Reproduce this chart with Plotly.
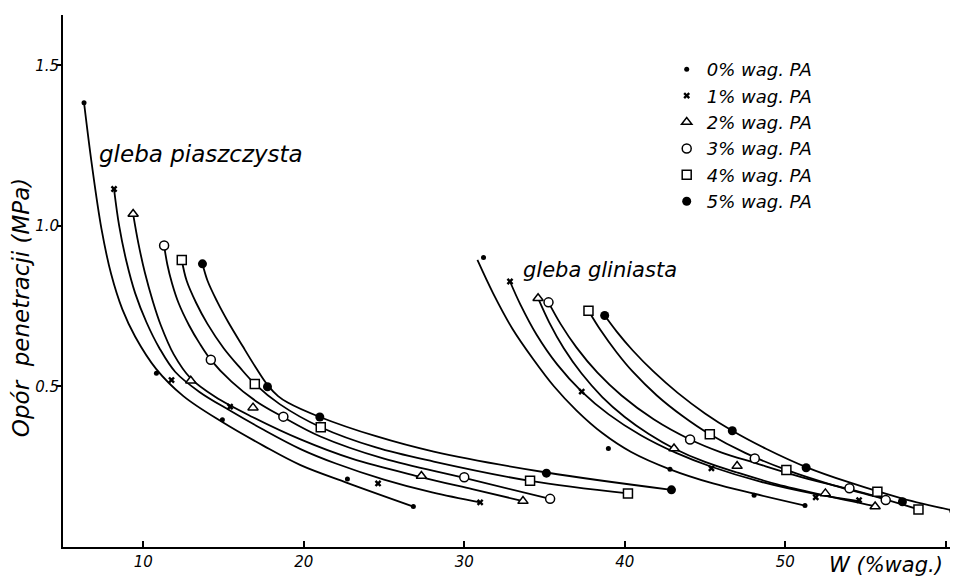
import plotly.graph_objects as go

# ---------------- data ----------------
series_names = ["0% wag. PA", "1% wag. PA", "2% wag. PA", "3% wag. PA", "4% wag. PA", "5% wag. PA"]

# measured points, sandy soil (gleba piaszczysta): W (% wag.) and penetration resistance (MPa)
sand_pts_w = [
    [6.31, 10.82, 14.93, 22.72, 26.83],
    [8.18, 11.76, 15.41, 24.63, 30.99],
    [9.37, 12.96, 16.84, 27.33, 33.66],
    [11.30, 14.21, 18.73, 30.00, 35.35],
    [12.40, 16.95, 21.06, 34.10, 40.20],
    [13.69, 17.74, 21.00, 35.12, 42.91],
]
sand_pts_r = [
    [1.384, 0.541, 0.396, 0.212, 0.126],
    [1.115, 0.520, 0.437, 0.198, 0.139],
    [1.037, 0.518, 0.434, 0.221, 0.143],
    [0.939, 0.583, 0.406, 0.217, 0.150],
    [0.894, 0.508, 0.373, 0.206, 0.167],
    [0.882, 0.499, 0.405, 0.230, 0.178],
]

# measured points, loamy soil (gleba gliniasta)
clay_pts_w = [
    [31.20, 38.98, 42.82, 48.06, 51.23],
    [32.85, 37.32, 45.40, 51.90, 54.60],
    [34.60, 43.07, 47.00, 52.50, 55.60],
    [35.25, 44.07, 48.10, 54.00, 56.26],
    [37.74, 45.30, 50.07, 55.74, 58.30],
    [38.75, 46.70, 51.30, 57.30, 60.50],
]
clay_pts_r = [
    [0.902, 0.307, 0.242, 0.161, 0.129],
    [0.827, 0.484, 0.245, 0.155, 0.146],
    [0.775, 0.307, 0.252, 0.167, 0.126],
    [0.762, 0.335, 0.276, 0.183, 0.146],
    [0.736, 0.351, 0.240, 0.172, 0.117],
    [0.721, 0.362, 0.247, 0.141, 0.113],
]

# fitted curves as drawn in the picture
sand_fit_w = [
    [6.31, 6.80, 7.40, 8.00, 8.70, 9.50, 10.80, 12.50, 14.90, 17.50, 19.80, 22.70, 26.83],
    [8.18, 8.50, 8.95, 9.50, 10.20, 11.00, 12.00, 13.50, 15.40, 17.50, 19.80, 22.00, 25.00, 28.00, 30.99],
    [9.37, 9.70, 10.10, 10.60, 11.10, 11.90, 12.96, 14.50, 16.80, 19.80, 23.00, 27.30, 30.50, 33.66],
    [11.30, 11.50, 11.80, 12.20, 12.86, 13.50, 14.21, 15.50, 17.00, 18.70, 21.00, 25.00, 30.00, 35.35],
    [12.40, 12.70, 13.30, 14.00, 15.00, 16.00, 16.95, 18.50, 21.06, 24.50, 28.10, 34.10, 40.20],
    [13.69, 14.00, 14.60, 15.30, 16.20, 17.00, 17.74, 18.40, 19.00, 21.00, 24.50, 28.10, 35.12, 42.91],
]
sand_fit_r = [
    [1.384, 1.190, 0.990, 0.850, 0.740, 0.655, 0.555, 0.470, 0.390, 0.315, 0.255, 0.200, 0.126],
    [1.115, 1.000, 0.890, 0.790, 0.700, 0.620, 0.545, 0.483, 0.425, 0.365, 0.305, 0.260, 0.210, 0.170, 0.139],
    [1.037, 0.945, 0.855, 0.765, 0.690, 0.600, 0.525, 0.467, 0.405, 0.335, 0.275, 0.218, 0.180, 0.143],
    [0.939, 0.880, 0.820, 0.760, 0.690, 0.635, 0.583, 0.515, 0.455, 0.405, 0.345, 0.275, 0.215, 0.150],
    [0.894, 0.830, 0.760, 0.695, 0.620, 0.560, 0.508, 0.445, 0.373, 0.310, 0.266, 0.206, 0.167],
    [0.882, 0.830, 0.765, 0.700, 0.625, 0.560, 0.505, 0.470, 0.450, 0.405, 0.345, 0.297, 0.232, 0.178],
]
clay_fit_w = [
    [30.82, 31.80, 33.00, 34.30, 35.60, 37.00, 38.60, 40.40, 42.82, 45.50, 48.06, 51.23],
    [32.85, 33.50, 34.50, 35.80, 37.32, 39.00, 41.00, 43.20, 45.40, 48.50, 51.90, 54.60],
    [34.60, 35.30, 36.20, 37.30, 38.60, 40.00, 41.50, 43.07, 45.00, 47.00, 49.50, 52.50, 55.60],
    [35.25, 36.00, 37.00, 38.30, 39.80, 41.80, 44.07, 46.00, 48.10, 51.00, 54.00, 56.26],
    [37.74, 38.50, 39.50, 40.50, 42.00, 43.60, 45.30, 47.50, 50.07, 53.00, 55.74, 58.30],
    [38.75, 39.50, 40.50, 41.80, 43.30, 45.00, 46.70, 48.80, 51.30, 54.00, 57.30, 60.50],
]
clay_fit_r = [
    [0.894, 0.790, 0.680, 0.585, 0.500, 0.425, 0.355, 0.296, 0.242, 0.198, 0.166, 0.129],
    [0.827, 0.755, 0.662, 0.568, 0.484, 0.413, 0.348, 0.293, 0.250, 0.203, 0.165, 0.143],
    [0.775, 0.699, 0.619, 0.541, 0.467, 0.405, 0.352, 0.307, 0.265, 0.232, 0.195, 0.160, 0.127],
    [0.762, 0.695, 0.621, 0.543, 0.472, 0.398, 0.335, 0.295, 0.262, 0.218, 0.180, 0.150],
    [0.736, 0.675, 0.606, 0.546, 0.472, 0.408, 0.351, 0.293, 0.240, 0.192, 0.155, 0.117],
    [0.721, 0.671, 0.612, 0.546, 0.480, 0.416, 0.362, 0.306, 0.249, 0.201, 0.151, 0.113],
]

soil_labels = ["gleba piaszczysta", "gleba gliniasta"]
x_ticks = [10, 20, 30, 40, 50, 60]
x_tick_text = ["10", "20", "30", "40", "50", ""]
y_ticks = [0.5, 1.0, 1.5]
y_tick_text = ["0.5", "1.0", "1.5"]

# ---------------- styles ----------------
marker_styles = [
    dict(symbol="circle", size=5, color="black", line=dict(width=0)),
    dict(symbol="x", size=6, color="black", line=dict(width=0)),
    dict(symbol="triangle-up", size=9, color="white", line=dict(color="black", width=1.5)),
    dict(symbol="circle", size=9, color="white", line=dict(color="black", width=1.5)),
    dict(symbol="square", size=9, color="white", line=dict(color="black", width=1.5)),
    dict(symbol="circle", size=9, color="black", line=dict(width=0)),
]
FONT = "DejaVu Sans"

fig = go.Figure()

# curves first
for fw, fr in ((sand_fit_w, sand_fit_r), (clay_fit_w, clay_fit_r)):
    for w, r in zip(fw, fr):
        fig.add_trace(go.Scatter(
            x=w, y=r, mode="lines",
            line=dict(color="black", width=1.8, shape="spline", smoothing=1.0),
            showlegend=False, hoverinfo="skip"))

# markers on top
for soil, (pw, pr) in enumerate(((sand_pts_w, sand_pts_r), (clay_pts_w, clay_pts_r))):
    for i, (w, r) in enumerate(zip(pw, pr)):
        fig.add_trace(go.Scatter(
            x=w, y=r, mode="markers", name=series_names[i],
            marker=marker_styles[i], showlegend=(soil == 0)))

fig.add_annotation(x=13.58, y=1.224, text=soil_labels[0], showarrow=False,
                   font=dict(family=FONT, size=23, style="italic", color="black"))
fig.add_annotation(x=38.44, y=0.863, text=soil_labels[1], showarrow=False,
                   font=dict(family=FONT, size=21, style="italic", color="black"))

# axis titles
fig.add_annotation(xref="paper", yref="paper", x=0, y=0.449, xshift=-42,
                   xanchor="center", yanchor="middle",
                   text="Opór  penetracji (MPa)", textangle=-90, showarrow=False,
                   font=dict(family=FONT, size=23, style="italic", color="black"))
fig.add_annotation(xref="paper", yref="paper", x=0.9196 * 895 / 903, y=0, yshift=-18,
                   xanchor="center", yanchor="middle", text="W (%wag.)", showarrow=False,
                   font=dict(family=FONT, size=21, style="italic", color="black"))

fig.update_layout(
    width=958, height=569,
    margin=dict(l=55, r=0, t=7, b=30),
    paper_bgcolor="white", plot_bgcolor="white",
    font=dict(family=FONT, color="black"),
    legend=dict(x=(658.7 - 55) / 903, y=0.9323, xanchor="left", yanchor="top",
                bgcolor="rgba(0,0,0,0)", tracegroupgap=0,
                font=dict(family=FONT, size=18, style="italic", color="black")),
)
fig.update_xaxes(range=[5, 5 + 903 / 16.05], showgrid=False, zeroline=False,
                 showline=True, linecolor="black", linewidth=2,
                 tickmode="array", tickvals=x_ticks, ticktext=x_tick_text,
                 ticks="inside", ticklen=6, tickwidth=1.5, tickcolor="black",
                 tickfont=dict(family=FONT, size=15, style="italic", color="black"))
fig.update_yaxes(range=[0, 1.657], showgrid=False, zeroline=False,
                 showline=True, linecolor="black", linewidth=2,
                 tickmode="array", tickvals=y_ticks, ticktext=y_tick_text,
                 ticks="outside", ticklen=4, tickwidth=1.5, tickcolor="black",
                 ticklabelstandoff=-5,
                 tickfont=dict(family=FONT, size=15, style="italic", color="black"))

fig.write_html("out.html")
